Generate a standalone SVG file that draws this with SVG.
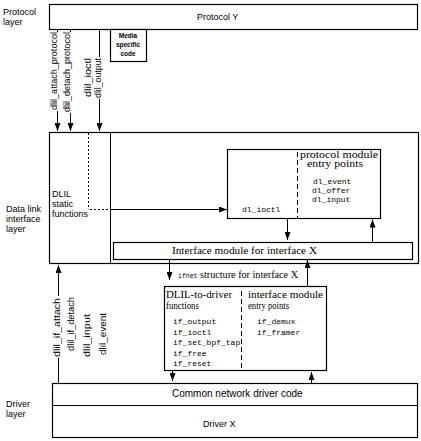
<svg xmlns="http://www.w3.org/2000/svg" width="421" height="441" viewBox="0 0 421 441">
<style>
  .box { fill: #fff; stroke: #000; stroke-width: 1.2; }
  .ln { fill: none; stroke: #000; stroke-width: 1; }
  .dot { fill: none; stroke: #000; stroke-width: 1; stroke-dasharray: 2 2; }
  .dash { fill: none; stroke: #000; stroke-width: 1; stroke-dasharray: 5 3; }
  .arr { marker-end: url(#ah); }
  text { fill: #000; }
  .sans { font-family: "Liberation Sans", Arial, sans-serif; font-size: 9px; }
  .sans10 { font-family: "Liberation Sans", Arial, sans-serif; font-size: 10px; }
  .serif { font-family: "Liberation Serif", "Times New Roman", serif; font-size: 9.5px; }
  .mono { font-family: "Liberation Mono", "Courier New", monospace; font-size: 8px; }
  .tiny { font-family: "Liberation Sans", Arial, sans-serif; font-size: 6.5px; font-weight: bold; }
</style>
<defs>
  <marker id="ah" viewBox="0 0 8 6" refX="8" refY="3" markerWidth="8" markerHeight="6" markerUnits="userSpaceOnUse" orient="auto">
    <path d="M0,0 L8,3 L0,6 Z" fill="#000"/>
  </marker>
</defs>
<rect width="421" height="441" fill="#fff"/>

<g id="layer-labels">
  <text class="sans" x="3" y="15">Protocol</text>
  <text class="sans" x="3" y="25">layer</text>
  <text class="sans" x="6" y="212">Data link</text>
  <text class="sans" x="6" y="222">interface</text>
  <text class="sans" x="6" y="232">layer</text>
  <text class="sans" x="6" y="407">Driver</text>
  <text class="sans" x="6" y="417">layer</text>
</g>

<g id="protocol-y">
  <rect class="box" x="49.5" y="4.5" width="368" height="25"/>
  <text class="sans" x="197" y="20">Protocol Y</text>
</g>

<g id="media-specific-code">
  <rect class="box" x="110.5" y="29.5" width="36" height="32"/>
  <text class="tiny" x="128" y="38" text-anchor="middle">Media</text>
  <text class="tiny" x="128" y="47" text-anchor="middle">specific</text>
  <text class="tiny" x="128" y="56" text-anchor="middle">code</text>
</g>

<g id="dlil-layer">
  <rect class="box" x="49.5" y="132.5" width="369" height="131"/>
  <line class="ln" x1="110.5" y1="132.5" x2="110.5" y2="263.5"/>
</g>

<g id="dlil-static-functions">
  <text class="sans" x="52" y="197">DLIL</text>
  <text class="sans" x="52" y="207">static</text>
  <text class="sans" x="52" y="217">functions</text>
</g>

<g id="protocol-module">
  <rect class="box" x="227.5" y="149.5" width="153" height="69"/>
  <line class="dash" x1="297.5" y1="152" x2="297.5" y2="218.5"/>
  <text class="serif" x="300" y="158" textLength="78" lengthAdjust="spacingAndGlyphs">protocol module</text>
  <text class="serif" x="307" y="167" textLength="56" lengthAdjust="spacingAndGlyphs">entry points</text>
  <text class="mono" x="313" y="184">dl_event</text>
  <text class="mono" x="312" y="193">dl_offer</text>
  <text class="mono" x="312" y="202">dl_input</text>
  <text class="mono" x="242" y="212">dl_ioctl</text>
</g>

<g id="interface-module">
  <rect class="box" x="113.5" y="242.5" width="299" height="17"/>
  <text class="serif" x="172" y="254" style="font-size:10.5px" textLength="145" lengthAdjust="spacingAndGlyphs">Interface module for interface X</text>
</g>

<g id="ifnet-label">
  <text class="mono" x="178" y="278" style="font-size:6.5px">ifnet</text>
  <text class="serif" x="200" y="278" textLength="98" lengthAdjust="spacingAndGlyphs">structure for interface X</text>
</g>

<g id="dlil-to-driver">
  <rect class="box" x="164.5" y="286.5" width="162" height="84"/>
  <line class="dash" x1="241.5" y1="291" x2="241.5" y2="370.5"/>
  <text class="serif" x="166" y="298" textLength="66" lengthAdjust="spacingAndGlyphs">DLIL-to-driver</text>
  <text class="serif" x="166" y="309" textLength="33" lengthAdjust="spacingAndGlyphs">functions</text>
  <text class="serif" x="248" y="298" textLength="75" lengthAdjust="spacingAndGlyphs">interface module</text>
  <text class="serif" x="248" y="309" textLength="41" lengthAdjust="spacingAndGlyphs">entry points</text>
  <text class="mono" x="173" y="324">if_output</text>
  <text class="mono" x="173" y="334.5">if_ioctl</text>
  <text class="mono" x="173" y="345">if_set_bpf_tap</text>
  <text class="mono" x="173" y="355.5">if_free</text>
  <text class="mono" x="173" y="366">if_reset</text>
  <text class="mono" x="257" y="324">if_demux</text>
  <text class="mono" x="257" y="335">if_framer</text>
</g>

<g id="driver">
  <rect class="box" x="52.5" y="383.5" width="365" height="54"/>
  <line class="ln" x1="52.5" y1="405.5" x2="417.5" y2="405.5"/>
  <text class="sans10" x="172" y="397">Common network driver code</text>
  <text class="sans" x="203" y="427">Driver X</text>
</g>

<g id="connectors">
  <line class="ln" x1="57.5" y1="29.5" x2="57.5" y2="32"/>
  <line class="ln arr" x1="57.5" y1="111" x2="57.5" y2="131"/>
  <line class="ln" x1="70.5" y1="29.5" x2="70.5" y2="32"/>
  <line class="ln arr" x1="70.5" y1="113" x2="70.5" y2="131"/>
  <line class="ln" x1="99.5" y1="29.5" x2="99.5" y2="57"/>
  <line class="ln arr" x1="99.5" y1="99" x2="99.5" y2="131"/>
  <line class="dot" x1="88.5" y1="133" x2="88.5" y2="209.5"/>
  <line class="dot" x1="90" y1="209.5" x2="110.5" y2="209.5"/>
  <line class="ln arr" x1="110.5" y1="209.5" x2="227" y2="209.5"/>
  <line class="ln arr" x1="287.5" y1="218.5" x2="287.5" y2="240"/>
  <line class="ln arr" x1="372.5" y1="242.5" x2="372.5" y2="219.5"/>
  <line class="ln arr" x1="169.5" y1="259.5" x2="169.5" y2="280"/>
  <line class="ln arr" x1="307.5" y1="286.5" x2="307.5" y2="260"/>
  <line class="ln arr" x1="172.5" y1="370.5" x2="172.5" y2="381"/>
  <line class="ln arr" x1="311.5" y1="383.5" x2="311.5" y2="372"/>
  <line class="ln" x1="58.5" y1="383.5" x2="58.5" y2="358"/>
  <line class="ln arr" x1="58.5" y1="296" x2="58.5" y2="265"/>
</g>

<g id="vertical-labels">
  <text class="sans" transform="translate(57,110) rotate(-90)" textLength="78" lengthAdjust="spacingAndGlyphs">dlil_attach_protocol</text>
  <text class="sans" transform="translate(70,112) rotate(-90)" textLength="80" lengthAdjust="spacingAndGlyphs">dlil_detach_protocol</text>
  <text class="sans" transform="translate(91,97) rotate(-90)" textLength="39" lengthAdjust="spacingAndGlyphs">dlil_ioctl</text>
  <text class="sans" transform="translate(101,98) rotate(-90)" textLength="40" lengthAdjust="spacingAndGlyphs">dlil_output</text>
  <text class="sans" transform="translate(60,357) rotate(-90)" textLength="59" lengthAdjust="spacingAndGlyphs">dlil_if_attach</text>
  <text class="sans" transform="translate(74,351) rotate(-90)" textLength="54" lengthAdjust="spacingAndGlyphs">dlil_if_detach</text>
  <text class="sans" transform="translate(90,357) rotate(-90)" textLength="43" lengthAdjust="spacingAndGlyphs">dlil_input</text>
  <text class="sans" transform="translate(106,355) rotate(-90)" textLength="42" lengthAdjust="spacingAndGlyphs">dlil_event</text>
</g>
</svg>
